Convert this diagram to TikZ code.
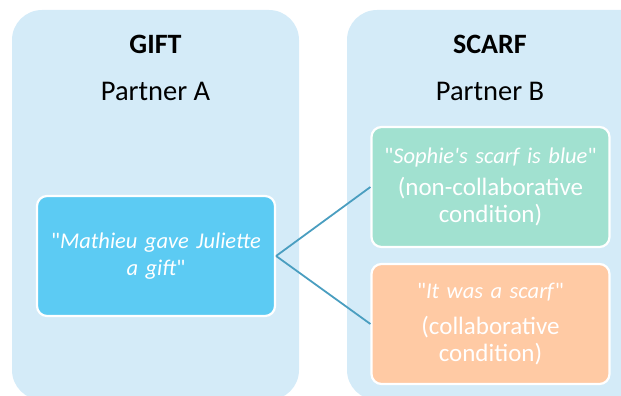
\documentclass[tikz,border=0pt]{standalone}
\usepackage{fontspec}
\setmainfont{Carlito}
\definecolor{panelbg}{HTML}{D4EBF8}
\definecolor{giftbox}{HTML}{5CCBF3}
\definecolor{greenbox}{HTML}{A1E1D0}
\definecolor{orangebox}{HTML}{FFCAA4}
\definecolor{linkcol}{HTML}{4A9EC0}
\newcommand{\dq}{\textquotedbl}
\newcommand{\paren}{\fontsize{25}{27.5}\selectfont}
\begin{document}
\begin{tikzpicture}[x=1pt,y=-1pt,
  panel/.style={fill=panelbg, draw=none, rounded corners=30pt},
  sentbox/.style={draw=white, line width=2.2pt, rounded corners=10pt, minimum width=238pt, minimum height=120pt, text=white, align=center, inner sep=0pt, text width=236pt, font=\fontsize{22.5}{27}\selectfont},
  title/.style={font=\fontsize{28}{30}\selectfont\bfseries, anchor=base},
  sub/.style={font=\fontsize{28.5}{30}\selectfont, anchor=base},
  link/.style={draw=linkcol, line width=1.8pt}
]
\useasboundingbox (0,0) rectangle (621,396);
\clip (0,0) rectangle (621,396);
\path[panel] (12,10) rectangle (299,400);
\path[panel] (347,10) rectangle (660,400);
\node[title] (t1) at (155.5,54) {GIFT};
\node[sub] (s1) at (155.5,100) {Partner A};
\node[title] (t2) at (490,54) {SCARF};
\node[sub] (s2) at (490,100) {Partner B};
\node[sentbox, fill=giftbox] (gift) at (156,256) {\dq\textit{Mathieu gave Juliette}\\\textit{a gift}\dq};
\node[sentbox, fill=greenbox] (green) at (490.5,187) {\dq\textit{Sophie\textquotesingle s scarf is blue}\dq\\[5pt]{\paren(non-collaborative\\condition)}};
\node[sentbox, fill=orangebox] (orange) at (490.5,324) {\dq\textit{It was a scarf}\dq\\[8pt]{\paren(collaborative\\condition)}};
\draw[link] (gift.east) -- (green.west);
\draw[link] (gift.east) -- (orange.west);
\end{tikzpicture}
\end{document}
